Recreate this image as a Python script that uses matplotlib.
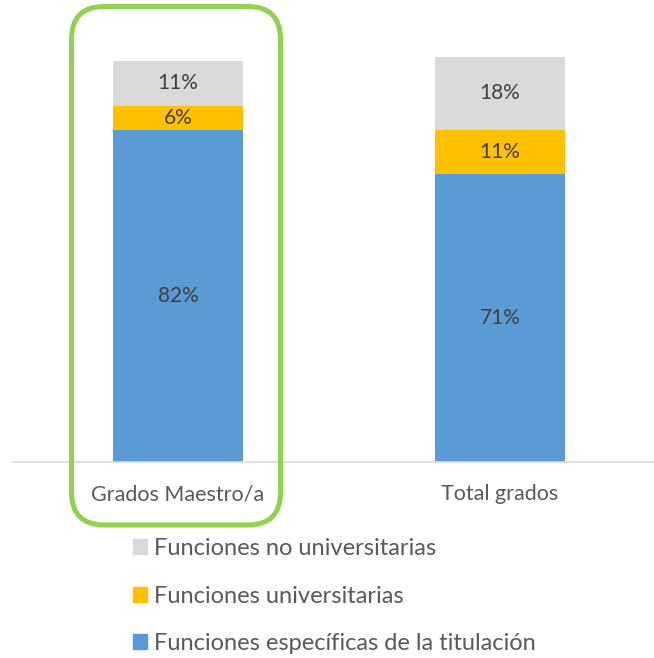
import matplotlib.pyplot as plt
from matplotlib.patches import FancyBboxPatch, Patch

categories = ['Grados Maestro/a', 'Total grados']
especificas = [82, 71]
universitarias = [6, 11]
no_universitarias = [11, 18]

series_names = ['Funciones específicas de la titulación',
                'Funciones universitarias',
                'Funciones no universitarias']
colors = ['#5B9BD5', '#FFC000', '#D9D9D9']

plt.rcParams['font.family'] = ['Lato', 'DejaVu Sans']

W, H = 654, 658
fig = plt.figure(figsize=(W / 100, H / 100), dpi=100)
ax = fig.add_axes([13 / W, 1 - 462 / H, 641 / W, (462 - 57) / H])

x = range(len(categories))
bw = 0.404
bottom = [0, 0]
for vals, c in zip([especificas, universitarias, no_universitarias], colors):
    bars = ax.bar(x, vals, bw, bottom=bottom, color=c, zorder=2)
    ax.bar_label(bars, labels=['%d%%' % v for v in vals], label_type='center',
                 fontsize=15, color='#404040')
    bottom = [b + v for b, v in zip(bottom, vals)]

ax.set_xlim(-0.5124, 1.478)
ax.set_ylim(0, 100)
ax.set_xticks(list(x))
ax.set_xticklabels(categories, fontsize=15.5, color='#595959')
ax.tick_params(axis='x', length=0, pad=16)
ax.set_yticks([])
for s in ['top', 'right', 'left']:
    ax.spines[s].set_visible(False)
ax.spines['bottom'].set_color('#D9D9D9')
ax.spines['bottom'].set_linewidth(1.2)

# green highlight box around first category
box = FancyBboxPatch((71.5 / W, 1 - 525 / H), 209 / W, 518.5 / H,
                     boxstyle='round,pad=0,rounding_size=0.05',
                     transform=fig.transFigure, fill=False,
                     edgecolor='#92D050', linewidth=3.6, mutation_aspect=W / H)
fig.patches.append(box)

handles = [Patch(color=c) for c in colors][::-1]
fig.legend(handles, series_names[::-1], loc='upper left',
           bbox_to_anchor=(112 / W, 1 - 517 / H), frameon=False,
           fontsize=17, labelcolor='#595959', handlelength=0.6,
           handleheight=0.6, handletextpad=0.3, labelspacing=1.12)

plt.savefig('out.png', dpi=100)
